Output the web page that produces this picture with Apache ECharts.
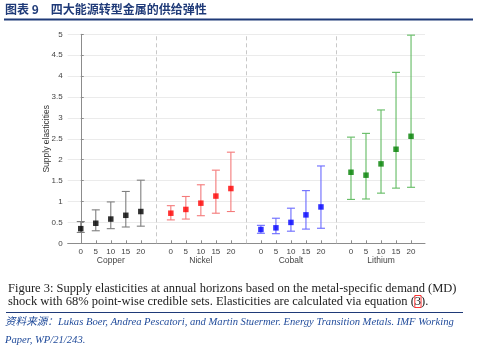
<!DOCTYPE html>
<html><head><meta charset="utf-8">
<script src="https://cdn.jsdelivr.net/npm/echarts@6/dist/echarts.min.js"></script>
<style>html,body{margin:0;padding:0;background:#fff}#c{width:477px;height:355px}</style>
</head><body><div id="c"></div>
<script>
const metals = ['Copper','Nickel','Cobalt','Lithium'];
const horizons = [0,5,10,15,20];
const copperMid = [0.35,0.48,0.58,0.67,0.76];
const copperLow = [0.26,0.30,0.35,0.39,0.41];
const copperHigh = [0.52,0.80,0.99,1.24,1.51];
const nickelMid = [0.72,0.81,0.96,1.13,1.31];
const nickelLow = [0.56,0.58,0.66,0.72,0.76];
const nickelHigh = [0.90,1.12,1.40,1.75,2.18];
const cobaltMid = [0.33,0.37,0.50,0.68,0.87];
const cobaltLow = [0.24,0.23,0.29,0.34,0.36];
const cobaltHigh = [0.43,0.60,0.84,1.26,1.85];
const lithiumMid = [1.70,1.63,1.90,2.25,2.56];
const lithiumLow = [1.05,1.06,1.20,1.32,1.34];
const lithiumHigh = [2.54,2.63,3.19,4.09,4.98];

const mids = [copperMid, nickelMid, cobaltMid, lithiumMid];
const lows = [copperLow, nickelLow, cobaltLow, lithiumLow];
const highs = [copperHigh, nickelHigh, cobaltHigh, lithiumHigh];
const markerColors = ['#000000','#ff0000','#0000ff','#008000'];
const barColors = ['#7f7f7f','#f47a7a','#6a6aff','#62bb62'];

const GROUP = horizons.length + 1;
const tickPos = [], tickLab = {};
metals.forEach((m,g)=>horizons.forEach((h,i)=>{const p=g*GROUP+i; tickPos.push(p); tickLab[p]=String(h);}));
const groupPos = metals.map((m,g)=>g*GROUP+(horizons.length-1)/2);
const groupLab = {}; metals.forEach((m,g)=>groupLab[groupPos[g]]=m);
const sepPos = metals.slice(1).map((m,g)=>(g+1)*GROUP-1);

const series = [];
metals.forEach((m,g)=>{
  const ebData = horizons.map((h,i)=>[g*GROUP+i, lows[g][i], highs[g][i]]);
  series.push({
    type:'custom', name:m+' band', xAxisIndex:0, yAxisIndex:0,
    data: ebData, z:2,
    renderItem:(params, api)=>{
      const x = api.value(0);
      const lo = api.coord([x, api.value(1)]);
      const hi = api.coord([x, api.value(2)]);
      const hw = 4;
      const st = {stroke: barColors[g], lineWidth: 1.1};
      return {type:'group', children:[
        {type:'line', shape:{x1:lo[0],y1:lo[1],x2:hi[0],y2:hi[1]}, style:st},
        {type:'line', shape:{x1:lo[0]-hw,y1:lo[1],x2:lo[0]+hw,y2:lo[1]}, style:st},
        {type:'line', shape:{x1:hi[0]-hw,y1:hi[1],x2:hi[0]+hw,y2:hi[1]}, style:st}
      ]};
    }
  });
  series.push({
    type:'scatter', name:m, xAxisIndex:0, yAxisIndex:0, z:3,
    symbol:'rect', symbolSize:5.5,
    itemStyle:{color: markerColors[g]},
    data: horizons.map((h,i)=>[g*GROUP+i, mids[g][i]])
  });
});
series.push({
  type:'line', data:[], xAxisIndex:0, yAxisIndex:0,
  markLine:{silent:true, symbol:'none', label:{show:false},
    lineStyle:{color:'#c8c8c8', type:[4,3], width:1},
    data: sepPos.map(p=>({xAxis:p}))}
});

const chart = echarts.init(document.getElementById('c'), null, {renderer:'canvas'});
chart.setOption({
  animation:false,
  backgroundColor:'#fff',
  grid:{left:67.7, top:34.3, right:52, bottom:111.7, containLabel:false},
  xAxis:[{
    type:'value', min:-0.87, max:22.93,
    axisLine:{show:true, lineStyle:{color:'#8c8c8c', width:1}},
    axisTick:{show:true, inside:true, length:3, customValues:tickPos, lineStyle:{color:'#8c8c8c'}},
    axisLabel:{show:true, customValues:tickPos, formatter:v=>tickLab[Math.round(v)]||'', fontSize:8, color:'#444', margin:4, fontFamily:'Liberation Sans'},
    splitLine:{show:false}
  },{
    type:'value', min:-0.87, max:22.93, position:'bottom', offset:9,
    axisLine:{show:false}, axisTick:{show:false},
    axisLabel:{show:true, customValues:groupPos, formatter:v=>groupLab[v]||'', fontSize:8.5, color:'#444', margin:4, fontFamily:'Liberation Sans'},
    splitLine:{show:false}
  }],
  yAxis:{
    type:'value', min:0, max:5, interval:0.5,
    name:'Supply elasticities', nameLocation:'middle', nameGap:17, nameRotate:90, nameMoveOverlap:false,
    nameTextStyle:{fontSize:8.5, color:'#333', fontFamily:'Liberation Sans'},
    axisLine:{show:true, lineStyle:{color:'#8c8c8c'}},
    axisTick:{show:true, inside:true, length:3, lineStyle:{color:'#8c8c8c'}},
    axisLabel:{fontSize:8, color:'#444', margin:5, fontFamily:'Liberation Sans', formatter:v=>String(v)},
    splitLine:{show:true, lineStyle:{color:'#ebebeb', width:1}}
  },
  series: series,
  graphic:[
    {type:'text', left:5, top:3, style:{text:'图表 9　四大能源转型金属的供给弹性', font:'bold 12px "Noto Sans CJK SC"', fill:'#1f3a78'}},
    {type:'rect', shape:{x:4, y:18.5, width:469, height:2}, style:{fill:'#1f3a78'}},
    {type:'text', left:8, top:282, style:{
      text:'Figure 3: Supply elasticities at annual horizons based on the metal-specific demand (MD)\nshock with 68% point-wise credible sets. Elasticities are calculated via equation ({b|3}).',
      font:'12.5px "Liberation Serif"', fill:'#222', lineHeight:13,
      rich:{b:{font:'12.5px "Liberation Serif"', fill:'#222', borderColor:'#ff0000', borderWidth:0.8, padding:[0,0,-1,0]}}
    }},
    {type:'rect', shape:{x:6, y:312, width:457, height:1}, style:{fill:'#1f3a78'}},
    {type:'text', left:5, top:316.5, style:{text:'资料来源：Lukas Boer, Andrea Pescatori, and Martin Stuermer. Energy Transition Metals. IMF Working', font:'italic 10.6px "Liberation Serif", "Noto Sans CJK SC"', fill:'#1f4a9a'}},
    {type:'text', left:5, top:335, style:{text:'Paper, WP/21/243.', font:'italic 10.6px "Liberation Serif"', fill:'#1f4a9a'}}
  ]
});
</script></body></html>
